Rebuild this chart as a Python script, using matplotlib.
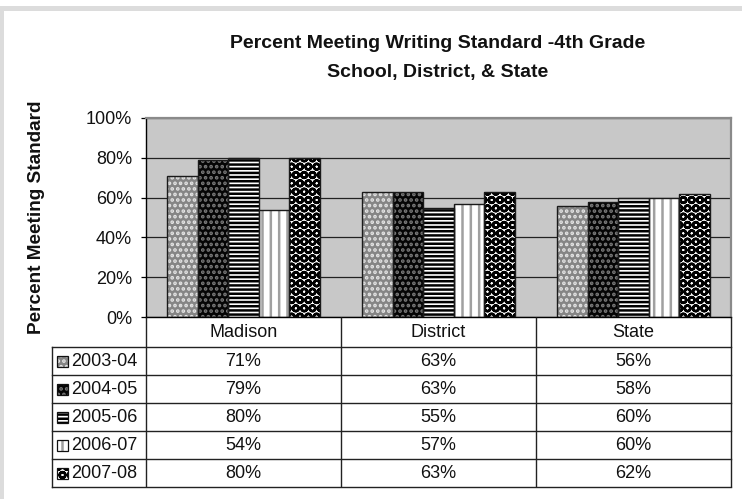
import matplotlib
matplotlib.use('Agg')
import matplotlib.pyplot as plt
from matplotlib.patches import Rectangle
import numpy as np

# ---------------- data ----------------
categories = ['Madison', 'District', 'State']
years = ['2003-04', '2004-05', '2005-06', '2006-07', '2007-08']
v2003_04 = [71, 63, 56]
v2004_05 = [79, 63, 58]
v2005_06 = [80, 55, 60]
v2006_07 = [54, 57, 60]
v2007_08 = [80, 63, 62]
series = [v2003_04, v2004_05, v2005_06, v2006_07, v2007_08]
yticks = [0, 20, 40, 60, 80, 100]
title_lines = ['Percent Meeting Writing Standard -4th Grade', 'School, District, & State']
ylabel = 'Percent Meeting Standard'

# ---------------- styles ----------------
styles = [
    dict(face='#858585', hatch='...', hc='#e4e4e4'),
    dict(face='#050505', hatch='...', hc='#7a7a7a'),
    dict(face='white', hatch='----', hc='black'),
    dict(face='white', hatch='||', hc='#a0a0a0'),
    dict(face='white', hatch='OO', hc='black'),
]

plt.rcParams['font.family'] = ['Liberation Sans', 'DejaVu Sans']
plt.rcParams['hatch.linewidth'] = 1.8

W, H = 742, 499
fig = plt.figure(figsize=(W / 100, H / 100), dpi=100)
fig.patch.set_facecolor('white')


def fx(px):
    return px / W


def fy(py):
    return 1 - py / H


# outer frame (light gray L-band)
fig.patches.append(Rectangle((0, fy(11)), 1, fy(6) - fy(11), transform=fig.transFigure,
                             facecolor='#dcdcdc', edgecolor='none', zorder=0))
fig.patches.append(Rectangle((0, 0), fx(4), fy(6), transform=fig.transFigure,
                             facecolor='#dcdcdc', edgecolor='none', zorder=0))

# ---------------- main plot ----------------
PL, PR, PT, PB = 146, 731, 118, 317
ax = fig.add_axes([fx(PL), fy(PB), fx(PR) - fx(PL), fy(PT) - fy(PB)])
ax.set_facecolor('#c8c8c8')
ax.set_xlim(-0.5, len(categories) - 0.5)
ax.set_ylim(0, 100)

x = np.arange(len(categories))
bw = 0.156
n = len(series)
for i, (vals, st) in enumerate(zip(series, styles)):
    pos = x + (i - (n - 1) / 2) * bw
    ax.bar(pos, vals, width=bw, color=st['face'], hatch=st['hatch'],
           edgecolor=st['hc'], linewidth=0, zorder=2)
    ax.bar(pos, vals, width=bw, fill=False, edgecolor='#1a1a1a', linewidth=1.0, zorder=3)

ax.set_yticks(yticks)
ax.set_yticklabels([f'{t}%' for t in yticks])
ax.set_xticks([])
ax.tick_params(axis='y', direction='out', length=3.6, width=0.9, pad=6.5,
               labelsize=13, colors='black', labelcolor='#111111')
ax.yaxis.grid(True, color='#222222', linewidth=0.9)
ax.set_axisbelow(True)
for s in ['left', 'bottom']:
    ax.spines[s].set_color('black')
    ax.spines[s].set_linewidth(1.0)
for s in ['top', 'right']:
    ax.spines[s].set_color('#8a8a8a')
    ax.spines[s].set_linewidth(1.6)

# titles
fig.text(fx(438), fy(43.5), title_lines[0], ha='center', va='center',
         fontsize=14, fontweight='bold', color='#111111')
fig.text(fx(438), fy(72), title_lines[1], ha='center', va='center',
         fontsize=14, fontweight='bold', color='#111111')
fig.text(fx(37), fy(217), ylabel, ha='center', va='center', rotation=90,
         fontsize=13.7, fontweight='bold', color='#111111')

# ---------------- data table ----------------
TL, TR, TT, TB = 52, 731, 317, 487
tax = fig.add_axes([fx(TL), fy(TB), fx(TR) - fx(TL), fy(TT) - fy(TB)])
tax.set_xlim(0, TR - TL)
tax.set_ylim(TB - TT, 0)
tax.axis('off')

leg_w = PL - TL
col_w = (TR - PL) / len(categories)
hdr_h = 30
row_h = (TB - TT - hdr_h) / len(years)
lc = '#222222'
lw = 1.0

# vertical lines
for j in range(len(categories) + 1):
    xv = leg_w + j * col_w
    tax.plot([xv, xv], [0, TB - TT], color=lc, lw=lw, solid_capstyle='butt', clip_on=False)
tax.plot([0, 0], [hdr_h, TB - TT], color=lc, lw=lw, clip_on=False)
# horizontal lines
for r in range(len(years) + 1):
    yv = hdr_h + r * row_h
    tax.plot([0, TR - TL], [yv, yv], color=lc, lw=lw, clip_on=False)

# header text
for j, c in enumerate(categories):
    tax.text(leg_w + (j + 0.5) * col_w, hdr_h / 2 + 0.5, c, ha='center', va='center',
             fontsize=13, color='#111111')

# rows
for r, (yr, vals, st) in enumerate(zip(years, series, styles)):
    yc = hdr_h + (r + 0.5) * row_h
    tax.add_patch(Rectangle((4.5, yc - 5.5), 11, 11, facecolor=st['face'], hatch=st['hatch'],
                            edgecolor=st['hc'], linewidth=0, clip_on=False))
    tax.add_patch(Rectangle((4.5, yc - 5.5), 11, 11, fill=False, edgecolor='#111111',
                            linewidth=0.9, clip_on=False))
    tax.text(19, yc + 0.5, yr, ha='left', va='center', fontsize=13, color='#111111')
    for j, v in enumerate(vals):
        tax.text(leg_w + (j + 0.5) * col_w, yc + 0.5, f'{v}%', ha='center', va='center',
                 fontsize=13, color='#111111')

fig.savefig('out.png', dpi=100, facecolor='white')
